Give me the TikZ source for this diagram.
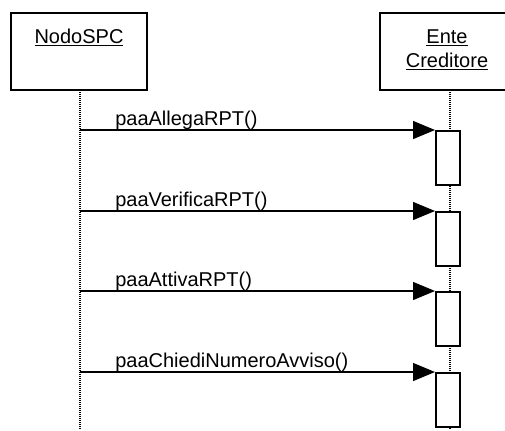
\documentclass[tikz,border=0pt]{standalone}
\usepackage{fontspec}
\setmainfont{Liberation Sans}
\usetikzlibrary{arrows.meta}
\begin{document}
\begin{tikzpicture}[x=0.75pt,y=-0.75pt, every node/.style={font=\fontsize{15}{18}\selectfont},
  objbox/.style={draw,line width=1.5pt,fill=white,minimum width=102pt,minimum height=57.75pt,inner sep=0pt},
  actbox/.style={draw,line width=1.5pt,fill=white,minimum width=18pt,minimum height=40.5pt,inner sep=0pt,anchor=north},
  lifeline/.style={dash pattern=on 0.75pt off 0.75pt,line width=0.9pt},
  msg/.style={-{Triangle[length=16.5pt,width=13.5pt]},line width=1pt},
  msglabel/.style={anchor=base west,inner sep=0pt}]
\useasboundingbox (0,0) rectangle (505,430);
% lifelines
\coordinate (nodoend) at (80,430);
\coordinate (enteend) at (450,430);
\node[objbox] (nodo) at (79,51.5) {};
\node[objbox] (ente) at (448,51.5) {};
\draw[lifeline] (80,90) -- (nodoend);
\draw[lifeline] (450,90) -- (enteend);
\node[anchor=base] (nodolbl) at (79,43) {\underline{NodoSPC}};
\node[anchor=base] (entelbl1) at (447,43) {\underline{Ente}};
\node[anchor=base] (entelbl2) at (447,67) {\underline{Creditore}};
% messages
\foreach \i/\y/\txt in {1/130/paaAllegaRPT(), 2/211/paaVerificaRPT(), 3/291/paaAttivaRPT(), 4/372/paaChiediNumeroAvviso()} {
  \node[actbox] (act\i) at (448,\y) {};
  \coordinate (src\i) at (80,\y);
  \draw[msg] (src\i) -- (act\i.north west);
  \node[msglabel] (lbl\i) at (115,\y-5) {\txt};
}
\end{tikzpicture}
\end{document}
